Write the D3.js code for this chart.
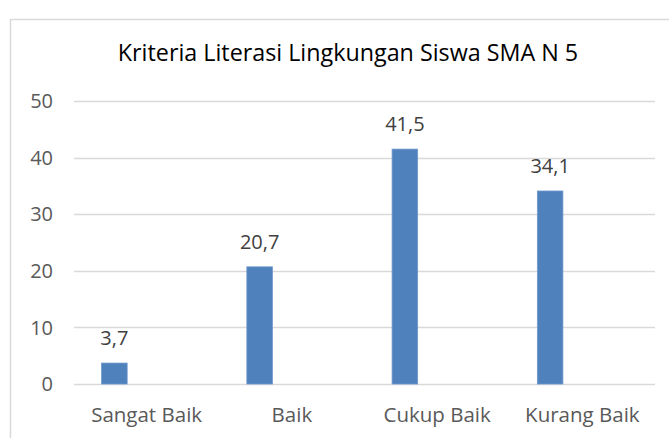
<!DOCTYPE html>
<html>
<head>
<meta charset="utf-8">
<script src="https://cdn.jsdelivr.net/npm/d3@7"></script>
<style>
  body{margin:0;background:#ffffff;}
  svg{display:block;}
</style>
</head>
<body>
<svg id="chart" width="669" height="438"></svg>
<script>
// data
var kategori=["Sangat Baik","Baik","Cukup Baik","Kurang Baik"];
var nilai=[3.7,20.7,41.5,34.1];
var ticksY=[0,10,20,30,40,50];
var judul="Kriteria Literasi Lingkungan Siswa SMA N 5";

var svg=d3.select("#chart");
var fuente="'Open Sans', 'Noto Sans', sans-serif";

var plotLeft=74, plotRight=655, plotTop=101, plotBottom=384;

// chart frame (right and bottom fall outside the picture)
svg.append("rect")
    .attr("x",10.5).attr("y",19.5)
    .attr("width",700).attr("height",500)
    .attr("fill","#ffffff")
    .attr("stroke","#d9d9d9")
    .attr("stroke-width",1.5);

var x=d3.scaleBand().domain(kategori).range([plotLeft,plotRight]).padding(0);
var y=d3.scaleLinear().domain([0,50]).range([plotBottom,plotTop]);

// gridlines
svg.append("g").selectAll("line").data(ticksY).enter().append("line")
    .attr("x1",plotLeft).attr("x2",plotRight)
    .attr("y1",function(d){return Math.round(y(d))+0.5;})
    .attr("y2",function(d){return Math.round(y(d))+0.5;})
    .attr("stroke","#d9d9d9")
    .attr("stroke-width",1.5);

// y tick labels
svg.append("g").selectAll("text").data(ticksY).enter().append("text")
    .attr("x",53)
    .attr("y",function(d){return y(d);})
    .attr("dy","0.36em")
    .style("text-anchor","end")
    .style("font-family",fuente)
    .style("font-size","20px")
    .style("fill","#595959")
    .text(function(d){return d;});

// bars sit left of the category centre (second, empty series in the original)
var bw=x.bandwidth();
svg.append("g").selectAll("rect").data(nilai).enter().append("rect")
    .attr("x",function(d,i){return x(kategori[i])+bw*0.19;})
    .attr("width",bw*0.176)
    .attr("y",function(d){return y(d);})
    .attr("height",function(d){return y(0)-y(d);})
    .attr("fill","#4f81bd")
    .attr("stroke","#6f98cc")
    .attr("stroke-width",0.8);

// value labels
svg.append("g").selectAll("text").data(nilai).enter().append("text")
    .attr("x",function(d,i){return x(kategori[i])+bw*0.19+bw*0.088;})
    .attr("y",function(d){return y(d)-18;})
    .style("text-anchor","middle")
    .style("font-family",fuente)
    .style("font-size","20px")
    .style("fill","#404040")
    .text(function(d){return String(d).replace(".",",");});

// category labels
svg.append("g").selectAll("text").data(kategori).enter().append("text")
    .attr("x",function(d){return x(d)+bw/2;})
    .attr("y",422)
    .style("text-anchor","middle")
    .style("font-family",fuente)
    .style("font-size","20.5px")
    .style("fill","#595959")
    .text(function(d){return d;});

// title
svg.append("text")
    .attr("x",348)
    .attr("y",61)
    .style("text-anchor","middle")
    .style("font-family",fuente)
    .style("font-size","23.3px")
    .style("fill","#000000")
    .text(judul);
</script>
</body>
</html>
